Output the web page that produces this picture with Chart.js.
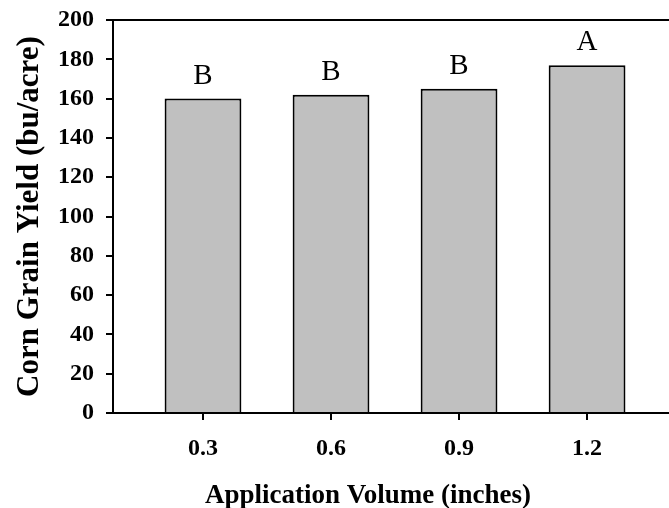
<!DOCTYPE html>
<html>
<head>
<meta charset="utf-8">
<script src="https://cdn.jsdelivr.net/npm/chart.js@4/dist/chart.umd.min.js"></script>
<style>
  html, body { margin: 0; padding: 0; background: #fff; overflow: hidden; }
  canvas { display: block; }
</style>
</head>
<body>
<canvas id="yieldChart" width="669" height="508"></canvas>
<script>
"use strict";
// values
const volumes = [0.3, 0.6, 0.9, 1.2];
const yields = [160, 162, 165, 177];
const letters = ['B', 'B', 'B', 'A'];
const yTicks = [0, 20, 40, 60, 80, 100, 120, 140, 160, 180, 200];
const xTitle = 'Application Volume (inches)';
const yTitle = 'Corn Grain Yield (bu/acre)';

const serif = '"Liberation Serif", "Times New Roman", Times, serif';

// letters above the bars, top frame line, x title (off-centre in the original)
const extras = {
    id: 'extras',
    afterDatasetsDraw(chart) {
        const ctx = chart.ctx;
        const area = chart.chartArea;
        ctx.save();
        ctx.strokeStyle = '#000';
        ctx.lineWidth = 2;
        ctx.beginPath();
        ctx.moveTo(area.left - 1, area.top);
        ctx.lineTo(area.right, area.top);
        ctx.stroke();

        ctx.fillStyle = '#000';
        ctx.font = '29px ' + serif;
        ctx.textAlign = 'center';
        ctx.textBaseline = 'alphabetic';
        chart.getDatasetMeta(0).data.forEach((bar, i) => {
            ctx.fillText(letters[i], bar.x, bar.y - 15);
        });

        ctx.font = 'bold 27px ' + serif;
        ctx.fillText(xTitle, 368, 503);
        ctx.restore();
    }
};

let canvas = document.getElementById('yieldChart');
let ctx = canvas.getContext('2d');
new Chart(ctx, {
    type: 'bar',
    data: {
        datasets: [{
            data: volumes.map((v, i) => ({ x: v, y: yields[i] })),
            backgroundColor: '#c0c0c0',
            borderColor: '#000',
            borderWidth: 2,
            barPercentage: 0.6,
            categoryPercentage: 1
        }]
    },
    options: {
        responsive: false,
        animation: false,
        layout: { padding: { top: 20, right: 0, bottom: 0, left: 0 } },
        plugins: {
            legend: { display: false },
            tooltip: { enabled: false }
        },
        scales: {
            x: {
                type: 'linear',
                offset: false,
                min: 0.0891,
                max: 1.392,
                afterBuildTicks: scale => {
                    scale.ticks = volumes.map(v => ({ value: v }));
                },
                afterFit: scale => {
                    scale.height = 95;
                    scale.paddingLeft = 0;
                    scale.paddingRight = 0;
                },
                grid: {
                    offset: false,
                    drawOnChartArea: false,
                    drawTicks: true,
                    tickLength: 7,
                    color: '#000',
                    lineWidth: 2
                },
                border: { color: '#000', width: 2 },
                ticks: {
                    color: '#000',
                    padding: 14,
                    maxRotation: 0,
                    font: { family: serif, size: 24, weight: 'bold' },
                    callback: v => v.toFixed(1)
                }
            },
            y: {
                min: 0,
                max: 200,
                afterBuildTicks: scale => {
                    scale.ticks = yTicks.map(v => ({ value: v }));
                },
                afterFit: scale => {
                    scale.width = 113;
                    scale.paddingTop = 0;
                    scale.paddingBottom = 0;
                },
                grid: {
                    drawOnChartArea: false,
                    drawTicks: true,
                    tickLength: 7,
                    color: '#000',
                    lineWidth: 2
                },
                border: { color: '#000', width: 2 },
                ticks: {
                    color: '#000',
                    padding: 12,
                    font: { family: serif, size: 24, weight: 'bold' }
                },
                title: {
                    display: true,
                    text: yTitle,
                    color: '#000',
                    font: { family: serif, size: 31, weight: 'bold' },
                    padding: { top: 11, bottom: 0 }
                }
            }
        }
    },
    plugins: [extras]
});
</script>
</body>
</html>
